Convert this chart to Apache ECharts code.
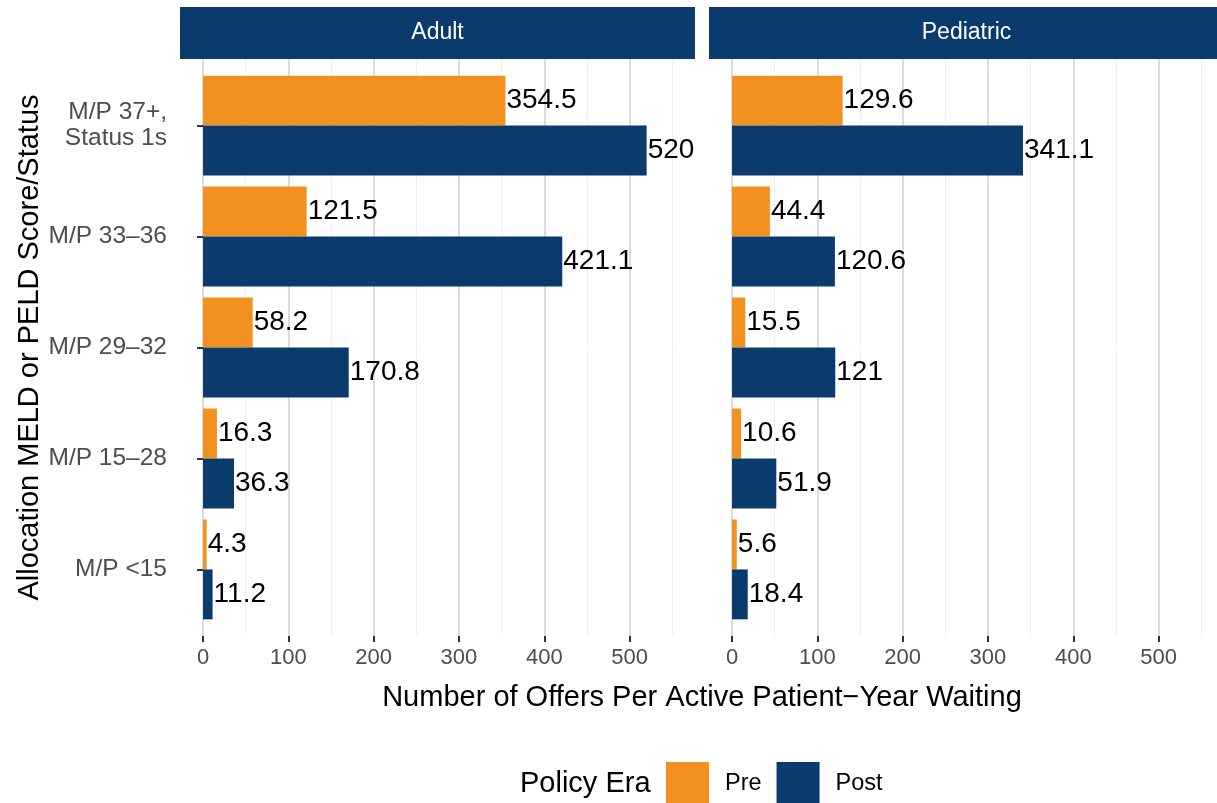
<!DOCTYPE html>
<html>
<head>
<meta charset="utf-8">
<script src="https://cdn.jsdelivr.net/npm/echarts@6/dist/echarts.min.js"></script>
<style>
html,body{margin:0;padding:0;background:#fff;}
#chart{width:1217px;height:803px;}
</style>
</head>
<body>
<div id="chart"></div>
<script>
// ---- data ----
const categories = ['M/P 37+,\nStatus 1s', 'M/P 33–36', 'M/P 29–32', 'M/P 15–28', 'M/P <15'];
const panels = ['Adult', 'Pediatric'];
const eras = ['Pre', 'Post'];
const adultPre  = [354.5, 121.5, 58.2, 16.3, 4.3];
const adultPost = [520, 421.1, 170.8, 36.3, 11.2];
const pedPre    = [129.6, 44.4, 15.5, 10.6, 5.6];
const pedPost   = [341.1, 120.6, 121, 51.9, 18.4];
const majorTickLabels = [0, 100, 200, 300, 400, 500];
const xTitle = 'Number of Offers Per Active Patient\u2212Year Waiting';
const yTitle = 'Allocation MELD or PELD Score/Status';
const legendTitle = 'Policy Era';

// ---- layout / style ----
const FONT = '"Liberation Sans", Arial, Helvetica, sans-serif';
const ORANGE = '#F2911F';
const NAVY = '#0B3B6C';
const PANEL_L = [180, 709];
const PANEL_W = 515;
const PANEL_T = 59, PANEL_B = 636;
const XMIN = -27, XMAX = 576.7;
const K = PANEL_W / (XMAX - XMIN);
const UNIT = (PANEL_B - PANEL_T) / 5.2;

const grids = [], xAxes = [], yAxes = [], series = [];
const seriesData = [[adultPre, adultPost], [pedPre, pedPost]];

panels.forEach((p, pi) => {
  const L = PANEL_L[pi];
  // minor gridlines grid
  const minorIdx = grids.length;
  grids.push({left: L + (50 - XMIN) * K, width: 500 * K, top: PANEL_T, height: PANEL_B - PANEL_T, outerBoundsMode: 'none'});
  xAxes.push({gridIndex: minorIdx, type: 'value', min: 50, max: 550, interval: 100,
    axisLine: {show: false}, axisTick: {show: false}, axisLabel: {show: false},
    splitLine: {show: true, lineStyle: {color: '#f0f0f0', width: 1}}});
  yAxes.push({gridIndex: minorIdx, type: 'value', show: false, min: 0, max: 1});
  // major gridlines + labels grid
  const majorIdx = grids.length;
  grids.push({left: L + (0 - XMIN) * K, width: 500 * K, top: PANEL_T, height: PANEL_B - PANEL_T, outerBoundsMode: 'none'});
  xAxes.push({gridIndex: majorIdx, type: 'value', min: majorTickLabels[0], max: majorTickLabels[majorTickLabels.length - 1], interval: 100,
    axisLine: {show: false},
    axisTick: {show: true, length: 6, lineStyle: {color: '#333', width: 2}},
    axisLabel: {show: true, color: '#4d4d4d', fontSize: 22, fontFamily: FONT, margin: 11},
    splitLine: {show: true, lineStyle: {color: '#dbdbdb', width: 2}}});
  yAxes.push({gridIndex: majorIdx, type: 'value', show: false, min: 0, max: 1});
  // bars grid
  const barIdx = grids.length;
  grids.push({left: L, width: PANEL_W, top: PANEL_T + 0.1 * UNIT, height: 5 * UNIT, outerBoundsMode: 'none'});
  xAxes.push({gridIndex: barIdx, type: 'value', min: XMIN, max: XMAX, show: false, splitLine: {show: false}});
  yAxes.push({gridIndex: barIdx, type: 'category', data: categories, inverse: true,
    axisLine: {show: false},
    axisTick: {show: pi === 0, length: 6, alignWithLabel: true, lineStyle: {color: '#333', width: 2}},
    axisLabel: {show: pi === 0, color: '#4d4d4d', fontSize: 24.5, fontFamily: FONT, margin: 13, lineHeight: 26, align: 'right'},
    splitLine: {show: false}});
  eras.forEach((era, ei) => {
    series.push({
      name: era, type: 'bar', xAxisIndex: barIdx, yAxisIndex: barIdx,
      data: seriesData[pi][ei],
      barGap: '0%', barCategoryGap: '10%',
      itemStyle: {color: ei === 0 ? ORANGE : NAVY},
      label: {show: true, position: 'right', distance: 1, color: '#000', fontSize: 28, fontFamily: FONT}
    });
  });
});

const graphics = [];
panels.forEach((p, pi) => {
  const L = PANEL_L[pi];
  graphics.push({type: 'rect', shape: {x: L, y: 7, width: PANEL_W, height: PANEL_T - 7}, style: {fill: NAVY}, silent: true});
  graphics.push({type: 'text', x: L + PANEL_W / 2, y: (7 + PANEL_T) / 2,
    style: {text: p, fill: '#fff', font: '23px ' + FONT, textAlign: 'center', textVerticalAlign: 'middle'}});
});
graphics.push({type: 'text', x: 702, y: 698,
  style: {text: xTitle, fill: '#000', font: '29px ' + FONT, textAlign: 'center', textVerticalAlign: 'middle'}});
graphics.push({type: 'text', x: 30, y: (PANEL_T + PANEL_B) / 2, rotation: Math.PI / 2,
  style: {text: yTitle, fill: '#000', font: '29px ' + FONT, textAlign: 'center', textVerticalAlign: 'middle'}});
graphics.push({type: 'text', x: 520, y: 784,
  style: {text: legendTitle, fill: '#000', font: '29px ' + FONT, textAlign: 'left', textVerticalAlign: 'middle'}});

const chart = echarts.init(document.getElementById('chart'), null, {renderer: 'canvas'});
chart.setOption({
  animation: false,
  backgroundColor: '#fff',
  grid: grids,
  xAxis: xAxes,
  yAxis: yAxes,
  series: series,
  legend: {data: eras, left: 661, top: 757, icon: 'rect', itemWidth: 43, itemHeight: 43, itemGap: 15,
    textStyle: {fontSize: 23.5, fontFamily: FONT, color: '#000', padding: [0, 0, 0, 11]}, selectedMode: false},
  graphic: graphics
});
</script>
</body>
</html>
